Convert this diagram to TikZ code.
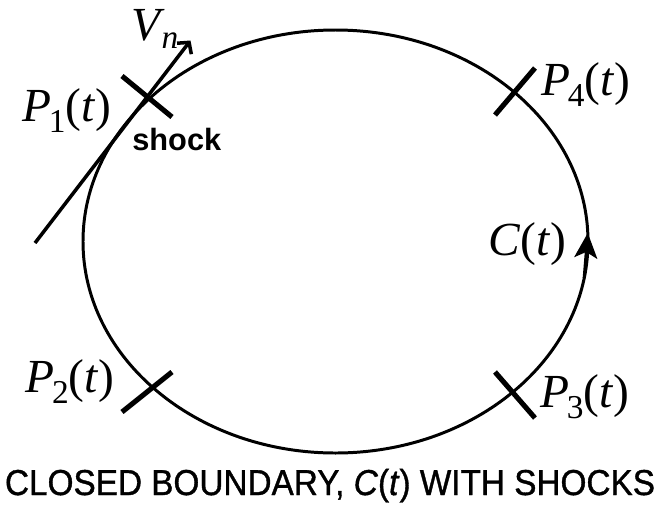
\documentclass[tikz,border=0pt]{standalone}
\usepackage{fontspec}
\setmainfont{Liberation Serif}
\newfontfamily\sansCap[FakeStretch=0.925, FakeBold=1]{Liberation Sans}
\newfontfamily\sansLbl{Liberation Sans}
\usetikzlibrary{arrows.meta}
\newcommand{\lowSub}[2][0.25em]{\raisebox{-#1}{\fontsize{19}{20}\selectfont #2}}
\tikzset{
    bndCurve/.style={
        draw=black, line width=1.7pt
    },
    bndShock/.style={
        draw=black, line width=2.9pt
    },
    bndLabel/.style={
        inner sep=0pt, anchor=base west, font=\fontsize{27}{30}\selectfont
    },
    bndArrow/.style={
        -{Stealth[length=0.5cm, width=0.46cm, inset=0.12cm]}, line width=1.7pt, draw=black
    },
    bndNormal/.style={
        -{Straight Barb[length=0.16cm, width=0.36cm]}, line width=2pt, draw=black
    }
}

\begin{document}
\begin{tikzpicture}
    \useasboundingbox (-6.71,-5.29) rectangle (6.45,4.83);

    % ── CLOSED BOUNDARY C(t)
    \draw[bndCurve] (0,0) ellipse [x radius=5.05, y radius=4.23];
    \coordinate (arrTail) at (-10:5.05 and 4.23);
    \coordinate (arrTip) at (2.3:5.05 and 4.23);
    \draw[bndArrow] (arrTail) -- (arrTip);

    % ── SHOCK POINTS
    \coordinate (shockA) at (-3.77, 2.90);
    \coordinate (shockB) at (-3.77, -3.01);
    \coordinate (shockC) at (3.59, -3.07);
    \coordinate (shockD) at (3.59, 3.00);

    \draw[bndShock] (shockA) ++(-0.50, 0.41) -- ++(1.00, -0.82);
    \draw[bndShock] (shockB) ++(-0.50, -0.40) -- ++(1.00, 0.80);
    \draw[bndShock] (shockC) ++(-0.40, 0.46) -- ++(0.80, -0.92);
    \draw[bndShock] (shockD) ++(-0.40, -0.47) -- ++(0.80, 0.94);

    % ── NORMAL VELOCITY AT P1
    \coordinate (tanStart) at (-6.01, -0.03);
    \coordinate (tanEnd) at (-2.90, 4.02);
    \draw[bndNormal] (tanStart) -- (tanEnd);

    % ── LABELS
    \node[bndLabel] (lblA) at (-6.27, 2.41) {\textit{P}\kern-0.05em\lowSub{1}(\textit{t})};
    \node[bndLabel, anchor=base east] (lblB) at (-4.41, -3.01) {\textit{P}\kern-0.05em\lowSub{2}(\textit{t})};
    \node[bndLabel] (lblC) at (4.09, -3.31) {\textit{P}\kern-0.05em\lowSub{3}(\textit{t})};
    \node[bndLabel] (lblD) at (4.11, 2.93) {\textit{P}\kern-0.05em\lowSub{4}(\textit{t})};
    \node[bndLabel] (lblCurve) at (3.05, -0.27) {\textit{C}(\textit{t})};
    \node[bndLabel] (lblVel) at (-4.08, 4.03) {\textit{V}\kern-0.08em\lowSub[0.17em]{\textit{n}}};
    \node[inner sep=0pt, anchor=base west, font=\sansLbl\bfseries\fontsize{17.5}{19}\selectfont] (lblShock) at (-4.07, 1.83) {shock};

    % ── CAPTION
    \node[inner sep=0pt, anchor=base, font=\sansCap\fontsize{20.5}{24}\selectfont] (caption) at (-0.11, -5.07) {CLOSED BOUNDARY, \textit{C}(\textit{t}) WITH SHOCKS};
\end{tikzpicture}
\end{document}
